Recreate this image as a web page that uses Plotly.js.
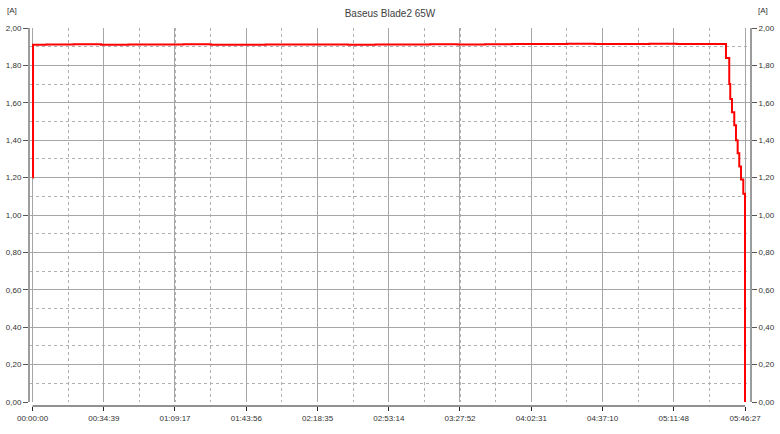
<!DOCTYPE html>
<html>
<head>
<meta charset="utf-8">
<script src="https://cdn.plot.ly/plotly-3.0.1.min.js"></script>
<style>
  html, body { margin: 0; padding: 0; background: #fff; }
  #chart { width: 780px; height: 434px; }
</style>
</head>
<body>
<div id="chart"></div>
<script>
// ---- data ----
const chartTitle = "Baseus Blade2 65W";
const unitLabel = "[A]";
const tickLabels = ["00:00:00","00:34:39","01:09:17","01:43:56","02:18:35","02:53:14",
                    "03:27:52","04:02:31","04:37:10","05:11:48","05:46:27"];
// elapsed time in seconds
const timeSec = [0, 15, 400, 1200, 2000, 2800, 3600, 4400, 5200, 6000, 6800, 7600,
                 8400, 9200, 10000, 10800, 11600, 12400, 13200, 14000, 14800, 15600,
                 16400, 17200, 18000, 18800, 19600, 20232, 20328, 20357, 20407, 20474,
                 20524, 20573, 20620, 20670, 20737, 20787];
// current in amperes
const currentA = [1.20, 1.91, 1.912, 1.913, 1.911, 1.912, 1.912, 1.913, 1.911, 1.911, 1.912, 1.912,
                  1.912, 1.911, 1.912, 1.912, 1.913, 1.912, 1.913, 1.915, 1.914, 1.916,
                  1.915, 1.914, 1.916, 1.915, 1.914, 1.84, 1.70, 1.62, 1.55, 1.48,
                  1.40, 1.33, 1.26, 1.19, 1.113, 0.00];

function toSec(s){ const p = s.split(":").map(Number); return p[0]*3600 + p[1]*60 + p[2]; }
const tickVals = tickLabels.map(toSec);
const tEnd = tickVals[tickVals.length-1];

const gridSolid = "#a6a6a6";
const gridDot = "#b0b0b0";
const fontFam = "'Liberation Sans', Arial, sans-serif";
const textCol = "#333333";

const traces = [
  { x: timeSec, y: currentA, type: "scatter", mode: "lines",
    line: { color: "#ff0000", width: 2, shape: "hv" }, hoverinfo: "skip", showlegend: false },
  { x: [timeSec[0]], y: [currentA[0]], type: "scatter", mode: "markers", yaxis: "y2",
    marker: { opacity: 0 }, hoverinfo: "skip", showlegend: false }
];

const yDomain = [4/378, 1];
const yCommon = {
  range: [0, 2.0], tick0: 0, dtick: 0.2, tickformat: ".2f",
  showline: true, linecolor: "#9c9c9c", linewidth: 2,
  ticks: "outside", ticklen: 5, tickcolor: "#555", tickwidth: 1,
  tickfont: { family: fontFam, size: 8, color: textCol },
  zeroline: false, fixedrange: true
};

const layout = {
  width: 780, height: 434,
  margin: { l: 30, r: 30, t: 28, b: 28, pad: 0 },
  paper_bgcolor: "#ffffff", plot_bgcolor: "#ffffff",
  separators: ",.",
  title: { text: chartTitle, x: 0.5, xanchor: "center", y: 1 - 13.7/434, yanchor: "middle",
           font: { family: fontFam, size: 10, color: "#404040" } },
  xaxis: {
    anchor: "free", position: 0,
    range: [-73, tEnd + 146],
    tickmode: "array", tickvals: tickVals, ticktext: tickLabels,
    ticks: "outside", ticklen: 4, tickcolor: "#222", tickwidth: 1,
    tickfont: { family: fontFam, size: 8, color: textCol },
    showgrid: true, gridcolor: gridSolid, gridwidth: 1,
    minor: { tick0: 0, dtick: tEnd / 20, showgrid: true, gridcolor: gridDot, griddash: "dot", gridwidth: 1, ticks: "" },
    showline: false, zeroline: false, fixedrange: true
  },
  yaxis: Object.assign({}, yCommon, {
    side: "left", domain: yDomain,
    showgrid: true, gridcolor: gridSolid, gridwidth: 1,
    minor: { dtick: 0.1, showgrid: true, gridcolor: gridDot, griddash: "dot", gridwidth: 1, ticks: "" }
  }),
  yaxis2: Object.assign({}, yCommon, {
    side: "right", overlaying: "y", showgrid: false
  }),
  shapes: [
    { type: "line", xref: "x", yref: "paper", x0: 0, x1: tEnd, y0: 0, y1: 0,
      line: { color: "#222", width: 1 } }
  ],
  annotations: [
    { text: unitLabel, xref: "paper", yref: "paper", x: -0.035, y: 1.0476, xanchor: "left", yanchor: "middle",
      showarrow: false, font: { family: fontFam, size: 8, color: textCol } },
    { text: unitLabel, xref: "paper", yref: "paper", x: 1.0083, y: 1.0476, xanchor: "left", yanchor: "middle",
      showarrow: false, font: { family: fontFam, size: 8, color: textCol } }
  ]
};

Plotly.newPlot("chart", traces, layout, { staticPlot: true, displayModeBar: false });
</script>
</body>
</html>
